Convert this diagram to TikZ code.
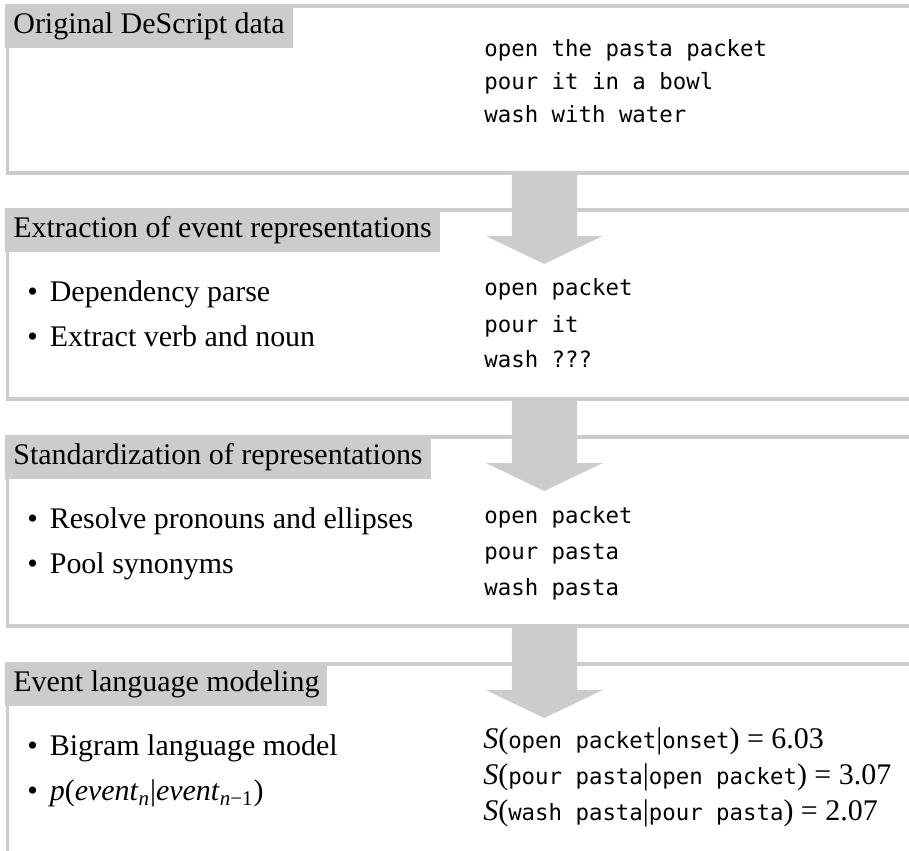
\documentclass[tikz,border=0pt]{standalone}
\usepackage{fontspec}
\setmainfont{Liberation Serif}
\setmonofont{DejaVu Sans Mono}
\definecolor{framegray}{HTML}{CCCCCC}
\newcommand{\stagefont}{\fontsize{15}{18}\selectfont}
\newcommand{\codefont}{\fontsize{11.2}{14}\selectfont\ttfamily}
\newcommand{\evt}[1]{{\codefont #1}}

\begin{document}
\begin{tikzpicture}[
    frame/.style={draw=framegray, line width=2pt},
    stagelabel/.style={fill=framegray, anchor=north west, inner xsep=4pt, inner ysep=2pt,
      text height=12.6pt, text depth=5.4pt, font=\stagefont},
    bulletline/.style={anchor=base west, inner sep=0pt, font=\stagefont},
    codeline/.style={anchor=base west, inner sep=0pt, font=\codefont},
    bigarrow/.style={fill=framegray, draw=none}
  ]
    \useasboundingbox (0,0) rectangle (16,-14.979);
    \clip (0,0) rectangle (16,-14.979);

    % frames, open to the right
    \path[frame] (16.5,-0.106) -- (0.132,-0.106) -- (0.132,-3.045) -- (16.5,-3.045);
    \path[frame] (16.5,-3.696) -- (0.132,-3.696) -- (0.132,-7.023) -- (16.5,-7.023);
    \path[frame] (16.5,-7.692) -- (0.132,-7.692) -- (0.132,-11.019) -- (16.5,-11.019);
    \path[frame] (16.5,-11.688) -- (0.132,-11.688) -- (0.132,-15.5);

    % block arrows between the stages
    \path[bigarrow] (9.01,-3.01) -- (10.16,-3.01) -- (10.16,-4.154) -- (10.61,-4.154)
        -- (9.58,-4.646) -- (8.55,-4.154) -- (9.01,-4.154) -- cycle;
    \path[bigarrow] (9.01,-6.988) -- (10.16,-6.988) -- (10.16,-8.150) -- (10.61,-8.150)
        -- (9.58,-8.642) -- (8.55,-8.150) -- (9.01,-8.150) -- cycle;
    \path[bigarrow] (9.01,-10.984) -- (10.16,-10.984) -- (10.16,-12.146) -- (10.61,-12.146)
        -- (9.58,-12.638) -- (8.55,-12.146) -- (9.01,-12.146) -- cycle;

    % stage titles
    \node[stagelabel] (orig) at (0.088,-0.070) {Original DeScript data};
    \node[stagelabel] (extract) at (0.088,-3.660) {Extraction of event representations};
    \node[stagelabel] (standard) at (0.088,-7.656) {Standardization of representations};
    \node[stagelabel] (langmodel) at (0.088,-11.652) {Event language modeling};

    % original data
    \node[codeline] (orig1) at (8.519,-0.986) {open the pasta packet};
    \node[codeline] (orig2) at (8.519,-1.567) {pour it in a bowl};
    \node[codeline] (orig3) at (8.519,-2.148) {wash with water};

    % extraction
    \node[bulletline] (extractA) at (0.475,-5.310) {\textbullet\hspace{6pt}Dependency parse};
    \node[bulletline] (extractB) at (0.475,-6.102) {\textbullet\hspace{6pt}Extract verb and noun};
    \node[codeline] (extract1) at (8.519,-5.210) {open packet};
    \node[codeline] (extract2) at (8.519,-5.844) {pour it};
    \node[codeline] (extract3) at (8.519,-6.477) {wash ???};

    % standardization
    \node[bulletline] (standardA) at (0.475,-9.306) {\textbullet\hspace{6pt}Resolve pronouns and ellipses};
    \node[bulletline] (standardB) at (0.475,-10.098) {\textbullet\hspace{6pt}Pool synonyms};
    \node[codeline] (standard1) at (8.519,-9.206) {open packet};
    \node[codeline] (standard2) at (8.519,-9.840) {pour pasta};
    \node[codeline] (standard3) at (8.519,-10.473) {wash pasta};

    % language model
    \node[bulletline] (langmodelA) at (0.475,-13.302) {\textbullet\hspace{6pt}Bigram language model};
    \node[bulletline] (langmodelB) at (0.475,-14.094)
        {\textbullet\hspace{6pt}\textit{p}(\textit{event}\textsubscript{\textit{n}}\textbar\textit{event}\textsubscript{\textit{n}−1})};
    \node[bulletline] (langmodel1) at (8.50,-13.167)
        {\textit{S}(\evt{open packet}\textbar\evt{onset}) = 6.03};
    \node[bulletline] (langmodel2) at (8.50,-13.801)
        {\textit{S}(\evt{pour pasta}\textbar\evt{open packet}) = 3.07};
    \node[bulletline] (langmodel3) at (8.50,-14.434)
        {\textit{S}(\evt{wash pasta}\textbar\evt{pour pasta}) = 2.07};
\end{tikzpicture}
\end{document}
